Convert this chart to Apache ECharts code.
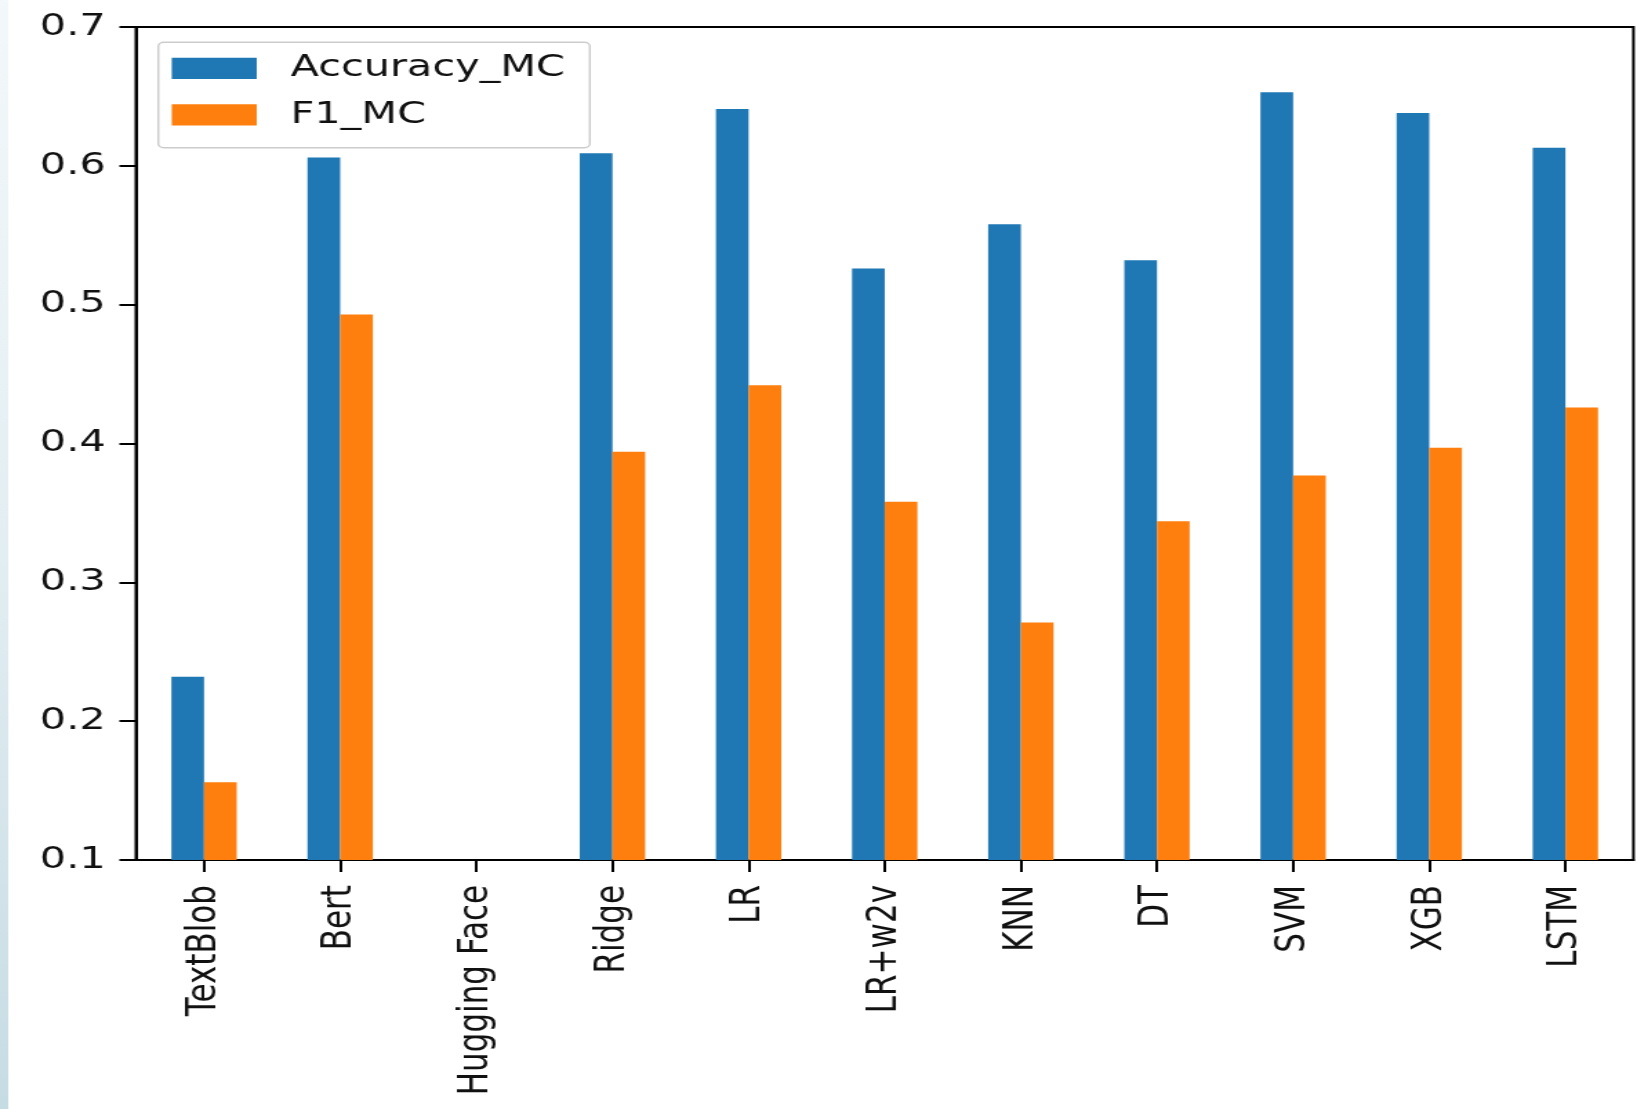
<!DOCTYPE html>
<html>
<head>
<meta charset="utf-8">
<script src="https://cdn.jsdelivr.net/npm/echarts@6/dist/echarts.min.js"></script>
<style>
  html, body { margin: 0; padding: 0; background: #ffffff; overflow: hidden; }
  #wrap { width: 1637px; height: 1109px; position: relative; overflow: hidden; background: #ffffff; }
  /* the figure is drawn narrow and widened horizontally */
  #chart { width: 1186px; height: 1109px; transform: scaleX(1.3803); transform-origin: 0 0; }
</style>
</head>
<body>
<div id="wrap"><div id="chart"></div></div>
<script>
// Model names on the x axis
const categories = ['TextBlob', 'Bert', 'Hugging Face', 'Ridge', 'LR', 'LR+w2v', 'KNN', 'DT', 'SVM', 'XGB', 'LSTM'];

// Multi-class scores per model (no score for Hugging Face)
const accuracyMC = [0.232, 0.606, null, 0.609, 0.641, 0.526, 0.558, 0.532, 0.653, 0.638, 0.613];
const f1MC       = [0.156, 0.493, null, 0.394, 0.442, 0.358, 0.271, 0.344, 0.377, 0.397, 0.426];

// Y axis ticks
const yMin = 0.1;
const yMax = 0.7;
const yStep = 0.1;

const seriesNames = ['Accuracy_MC', 'F1_MC'];
const seriesColors = ['#1f77b4', '#ff7f0e'];

const FONT = 'DejaVu Sans';
const INK = '#111111';

const chart = echarts.init(document.getElementById('chart'), null, { renderer: 'canvas' });

chart.setOption({
  animation: false,
  backgroundColor: 'transparent',
  graphic: [{
    type: 'rect',
    left: 0,
    top: 0,
    z: -10,
    shape: { width: 6, height: 1109 },
    style: {
      fill: new echarts.graphic.LinearGradient(0, 0, 0, 1, [
        { offset: 0, color: '#f3f8fa' },
        { offset: 0.5, color: '#e3eef2' },
        { offset: 1, color: '#c6dce3' }
      ])
    }
  }],
  grid: {
    left: 98.5,
    right: 2.6,
    top: 27,
    bottom: 249,
    show: true,
    borderColor: '#000000',
    borderWidth: 2,
    backgroundColor: 'transparent'
  },
  legend: {
    orient: 'vertical',
    left: 114.7,
    top: 42.3,
    padding: [11, 18, 17.8, 9.7],
    itemWidth: 61.6,
    itemHeight: 21.3,
    itemGap: 16.6,
    icon: 'rect',
    backgroundColor: 'rgba(255,255,255,0.8)',
    borderColor: '#cccccc',
    borderWidth: 1.5,
    borderRadius: 4,
    data: seriesNames,
    textStyle: {
      fontFamily: FONT,
      fontSize: 30,
      lineHeight: 30,
      color: INK,
      padding: [0, 0, 0, 19.5]
    }
  },
  xAxis: {
    type: 'category',
    data: categories,
    boundaryGap: true,
    axisLine: { show: true, lineStyle: { color: '#000000', width: 2 } },
    axisTick: { show: true, alignWithLabel: true, length: 12, lineStyle: { color: '#000000', width: 2 } },
    axisLabel: {
      interval: 0,
      rotate: 90,
      margin: 25,
      fontFamily: FONT,
      fontSize: 31,
      color: INK
    },
    splitLine: { show: false }
  },
  yAxis: {
    type: 'value',
    min: yMin,
    max: yMax,
    interval: yStep,
    axisLine: { show: true, lineStyle: { color: '#000000', width: 2 } },
    axisTick: { show: true, length: 12, lineStyle: { color: '#000000', width: 2 } },
    axisLabel: {
      margin: 22,
      fontFamily: FONT,
      fontSize: 30,
      color: INK,
      formatter: v => v.toFixed(1)
    },
    splitLine: { show: false }
  },
  series: [
    {
      name: seriesNames[0],
      type: 'bar',
      data: accuracyMC,
      barGap: '0%',
      barCategoryGap: '52%',
      itemStyle: { color: seriesColors[0], borderWidth: 0 }
    },
    {
      name: seriesNames[1],
      type: 'bar',
      data: f1MC,
      barGap: '0%',
      barCategoryGap: '52%',
      itemStyle: { color: seriesColors[1], borderWidth: 0 }
    }
  ]
});
</script>
</body>
</html>
